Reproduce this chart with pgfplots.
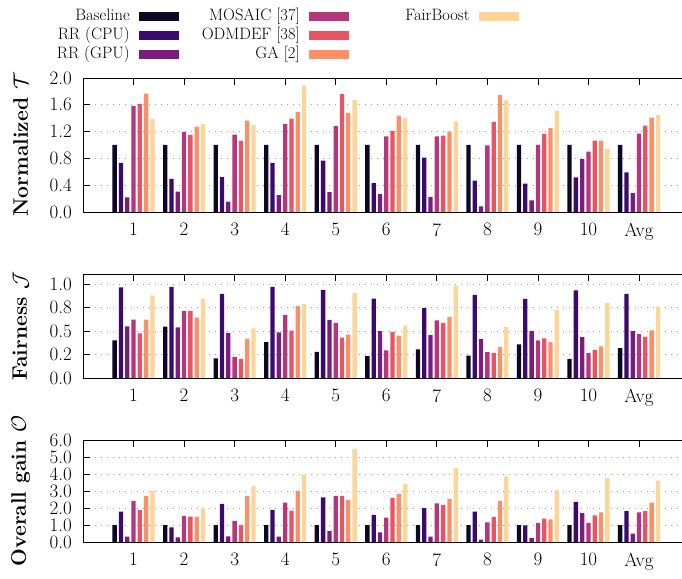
\documentclass[border=0pt]{standalone}
\usepackage{pgfplots}
\usepackage{pgfplotstable}
\pgfplotsset{compat=1.18}
\definecolor{cA}{HTML}{0B0724}
\definecolor{cB}{HTML}{3B0A6C}
\definecolor{cC}{HTML}{7A1D7E}
\definecolor{cD}{HTML}{B5367A}
\definecolor{cE}{HTML}{E75463}
\definecolor{cF}{HTML}{FB8F66}
\definecolor{cG}{HTML}{FDD596}

\pgfplotstableread{
x a b c d e f g
1 1.0 0.735 0.22 1.585 1.615 1.765 1.385
2 1.0 0.495 0.305 1.195 1.15 1.275 1.31
3 1.0 0.52 0.155 1.155 1.06 1.365 1.30
4 1.0 0.735 0.25 1.315 1.395 1.495 1.89
5 1.0 0.765 0.295 1.28 1.76 1.48 1.67
6 1.0 0.43 0.265 1.13 1.21 1.44 1.40
7 1.0 0.81 0.225 1.13 1.14 1.20 1.35
8 1.0 0.47 0.085 0.995 1.345 1.745 1.665
9 1.0 0.425 0.175 1.0 1.165 1.25 1.51
10 1.0 0.515 0.79 0.90 1.065 1.065 0.945
11 1.0 0.59 0.28 1.17 1.29 1.41 1.445
}\tabT

\pgfplotstableread{
x a b c d e f g
1 0.40 0.964 0.55 0.62 0.475 0.62 0.88
2 0.546 0.971 0.54 0.714 0.714 0.643 0.846
3 0.21 0.896 0.479 0.225 0.204 0.418 0.529
4 0.382 0.971 0.486 0.671 0.504 0.764 0.789
5 0.279 0.939 0.618 0.586 0.429 0.461 0.904
6 0.232 0.846 0.50 0.293 0.489 0.45 0.557
7 0.304 0.743 0.457 0.614 0.586 0.65 0.982
8 0.239 0.886 0.414 0.275 0.264 0.329 0.543
9 0.357 0.843 0.50 0.40 0.421 0.382 0.725
10 0.204 0.932 0.436 0.264 0.30 0.336 0.80
11 0.318 0.896 0.50 0.468 0.439 0.507 0.757
}\tabJ

\pgfplotstableread{
x a b c d e f g
1 1.0 1.78 0.31 2.42 1.89 2.71 3.01
2 1.0 0.86 0.27 1.54 1.50 1.48 2.01
3 1.0 2.25 0.33 1.25 1.0 2.71 3.30
4 1.0 1.89 0.31 2.32 1.84 3.01 3.96
5 1.0 2.62 0.66 2.71 2.71 2.48 5.47
6 1.0 1.60 0.57 1.43 2.60 2.83 3.42
7 1.0 1.99 0.31 2.27 2.19 2.54 4.36
8 1.0 1.78 0.14 1.15 1.48 2.42 3.85
9 1.0 0.98 0.25 1.11 1.37 1.33 3.07
10 1.0 2.36 1.70 1.13 1.56 1.74 3.75
11 1.0 1.82 0.49 1.74 1.82 2.32 3.61
}\tabO

\pgfplotsset{
  base/.style={
    scale only axis, width=599pt, anchor=south west,
    xmin=0, xmax=11.85,
    xtick={1,...,11}, xticklabels={1,2,3,4,5,6,7,8,9,10,Avg},
    ybar, bar width=4.3pt,
    tick align=inside, major tick length=7pt,
    ymin=0,
    ymajorgrids, grid style={gray!70, line width=0.8pt, dash pattern=on 0.8pt off 5.2pt},
    ytick pos=left, xtick pos=both,
    tick label style={font=\fontsize{19}{22}\selectfont, inner sep=0pt},
    xticklabel style={yshift=-11pt},
    yticklabel style={xshift=-11pt},
    ylabel style={font=\fontsize{21}{24}\selectfont\bfseries, at={(axis description cs:-0.104,0.5)}, anchor=center},
    axis line style={line width=0.9pt},
    every tick/.style={black, line width=0.7pt},
  },
  pA/.style={fill=cA, draw=none, bar shift=-18.9pt},
  pB/.style={fill=cB, draw=none, bar shift=-12.6pt},
  pC/.style={fill=cC, draw=none, bar shift=-6.3pt},
  pD/.style={fill=cD, draw=none, bar shift=0pt},
  pE/.style={fill=cE, draw=none, bar shift=6.3pt},
  pF/.style={fill=cF, draw=none, bar shift=12.6pt},
  pG/.style={fill=cG, draw=none, bar shift=18.9pt},
  lgd/.style={legend image code/.code={\fill[##1] (0pt,-4.5pt) rectangle (40pt,4.5pt);}},
}
\newcommand{\lgtxt}[1]{\makebox[110pt][r]{#1}}

\begin{document}
\begin{tikzpicture}
\useasboundingbox (0pt,0pt) rectangle (682pt,578pt);

\begin{axis}[base, at={(83pt,366pt)}, height=134pt,
  ymax=2.0, ytick={0,0.4,0.8,1.2,1.6,2.0},
  yticklabels={0.0,0.4,0.8,1.2,1.6,2.0},
  ylabel={Normalized $\mathcal{T}$},
  legend columns=3, legend plot pos=right, legend cell align=right,
  legend style={draw=none, fill=none, at={(axis description cs:-0.106,1.52)}, anchor=north west,
    font=\fontsize{16.5}{18}\selectfont, inner sep=0pt, row sep=3pt,
    nodes={inner sep=0pt, text height=12pt, text depth=4pt},
    /tikz/every odd column/.append style={column sep=9pt},
    /tikz/every even column/.append style={column sep=11pt}},
]
\addplot[pA, forget plot] table[x=x,y=a]{\tabT};
\addplot[pB, forget plot] table[x=x,y=b]{\tabT};
\addplot[pC, forget plot] table[x=x,y=c]{\tabT};
\addplot[pD, forget plot] table[x=x,y=d]{\tabT};
\addplot[pE, forget plot] table[x=x,y=e]{\tabT};
\addplot[pF, forget plot] table[x=x,y=f]{\tabT};
\addplot[pG, forget plot] table[x=x,y=g]{\tabT};
\addlegendimage{fill=cA, draw=none, lgd}
\addlegendentry{\lgtxt{Baseline}}
\addlegendimage{fill=cD, draw=none, lgd}
\addlegendentry{\lgtxt{MOSAIC [37]}}
\addlegendimage{fill=cG, draw=none, lgd}
\addlegendentry{\lgtxt{FairBoost}}
\addlegendimage{fill=cB, draw=none, lgd}
\addlegendentry{\lgtxt{RR (CPU)}}
\addlegendimage{fill=cE, draw=none, lgd}
\addlegendentry{\lgtxt{ODMDEF [38]}}
\addlegendimage{fill=white, draw=none, lgd}
\addlegendentry{\lgtxt{\strut}}
\addlegendimage{fill=cC, draw=none, lgd}
\addlegendentry{\lgtxt{RR (GPU)}}
\addlegendimage{fill=cF, draw=none, lgd}
\addlegendentry{\lgtxt{GA [2]}}
\end{axis}

\begin{axis}[base, at={(83pt,200pt)}, height=104pt,
  ymax=1.107, ytick={0,0.25,0.5,0.75,1.0},
  yticklabels={0.0,0.2,0.5,0.8,1.0},
  ylabel={Fairness $\mathcal{J}$},
]
\addplot[pA] table[x=x,y=a]{\tabJ};
\addplot[pB] table[x=x,y=b]{\tabJ};
\addplot[pC] table[x=x,y=c]{\tabJ};
\addplot[pD] table[x=x,y=d]{\tabJ};
\addplot[pE] table[x=x,y=e]{\tabJ};
\addplot[pF] table[x=x,y=f]{\tabJ};
\addplot[pG] table[x=x,y=g]{\tabJ};
\end{axis}

\begin{axis}[base, at={(83pt,36pt)}, height=102pt,
  ymax=6, ytick={0,1,2,3,4,5,6},
  yticklabels={0.0,1.0,2.0,3.0,4.0,5.0,6.0},
  ylabel={Overall gain $\mathcal{O}$},
]
\addplot[pA] table[x=x,y=a]{\tabO};
\addplot[pB] table[x=x,y=b]{\tabO};
\addplot[pC] table[x=x,y=c]{\tabO};
\addplot[pD] table[x=x,y=d]{\tabO};
\addplot[pE] table[x=x,y=e]{\tabO};
\addplot[pF] table[x=x,y=f]{\tabO};
\addplot[pG] table[x=x,y=g]{\tabO};
\end{axis}
\end{tikzpicture}
\end{document}
